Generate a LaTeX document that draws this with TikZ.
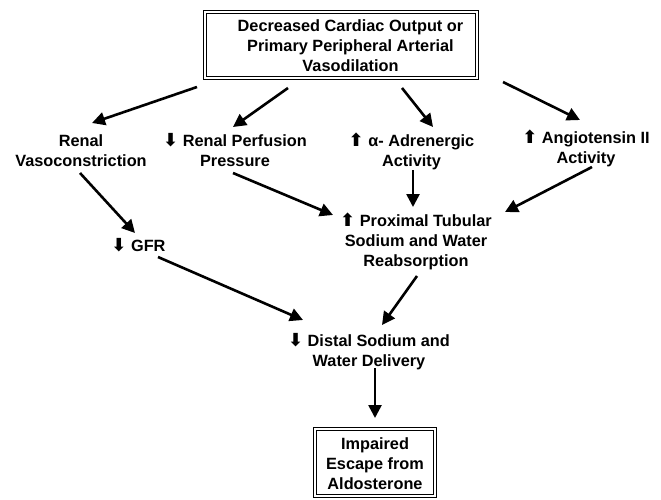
\documentclass[tikz,border=0pt]{standalone}
\usepackage{fontspec}
\setmainfont{Liberation Sans}
\newfontfamily\symfont{DejaVu Sans}
\usetikzlibrary{arrows.meta}
\newcommand{\darr}{{\symfont\fontsize{18}{18}\selectfont ⬇}}
\newcommand{\uarr}{{\symfont\fontsize{18}{18}\selectfont ⬆}}
\begin{document}
\begin{tikzpicture}[x=1pt,y=1pt,
  lbl/.style={font=\fontsize{16.3}{20}\selectfont\bfseries, align=center, inner sep=0pt, anchor=base},
  arr/.style={line width=2.6pt, -{Triangle[length=13pt,width=13pt]}},
  dbox/.style={draw, double, line width=1.1pt, double distance=1.8pt, inner sep=0pt}
]
\useasboundingbox (0,0) rectangle (661,-500);
% boxes
\node[dbox, minimum width=272pt, minimum height=66pt] (top) at (341,-45) {};
\node[lbl] (toptxt) at (350.5,-71.7) {Decreased Cardiac Output or\\Primary Peripheral Arterial\\Vasodilation};
\node[dbox, minimum width=120pt, minimum height=67pt] (bot) at (375,-462.5) {};
\node[lbl] (bottxt) at (375,-489) {Impaired\\Escape from\\Aldosterone};
% labels
\node[lbl] (rv) at (81,-166.7) {Renal\\Vasoconstriction};
\node[lbl] (rpp) at (235,-166.7) {\darr{} Renal Perfusion\\Pressure};
\node[lbl] (aa) at (411.5,-166.7) {\uarr{} α- Adrenergic\\Activity};
\node[lbl] (ang) at (586,-163.7) {\uarr{} Angiotensin II\\Activity};
\node[lbl] (gfr) at (138.5,-251.7) {\darr{} GFR};
\node[lbl] (prox) at (416,-266.7) {\uarr{} Proximal Tubular\\Sodium and Water\\Reabsorption};
\node[lbl] (dist) at (369,-366.7) {\darr{} Distal Sodium and\\Water Delivery};
% connectors
\draw[arr] ([shift={(-144,-42)}]top.center) -- ([shift={(11,43.7)}]rv.base);
\draw[arr] ([shift={(-53,-43)}]top.center) -- ([shift={(-2,39.7)}]rpp.base);
\draw[arr] ([shift={(61,-43)}]top.center) -- ([shift={(21.5,39.7)}]aa.base);
\draw[arr] ([shift={(162,-37)}]top.center) -- ([shift={(-6,43.7)}]ang.base);
\draw[arr] ([shift={(-1,-6.3)}]rv.base) -- ([shift={(-3.5,18.7)}]gfr.base);
\draw[arr] ([shift={(-2,-6.3)}]rpp.base) -- ([shift={(-83,51.7)}]prox.base);
\draw[arr] ([shift={(1.5,-3.3)}]aa.base) -- ([shift={(-3,59.7)}]prox.base);
\draw[arr] ([shift={(6,-3.3)}]ang.base) -- ([shift={(89,54.7)}]prox.base);
\draw[arr] ([shift={(19.5,-5.3)}]gfr.base) -- ([shift={(-66,46.7)}]dist.base);
\draw[arr] ([shift={(1,-9.3)}]prox.base) -- ([shift={(13,41.7)}]dist.base);
\draw[arr] ([shift={(6,-1.3)}]dist.base) -- ([shift={(0,44.5)}]bot.center);
\end{tikzpicture}
\end{document}
